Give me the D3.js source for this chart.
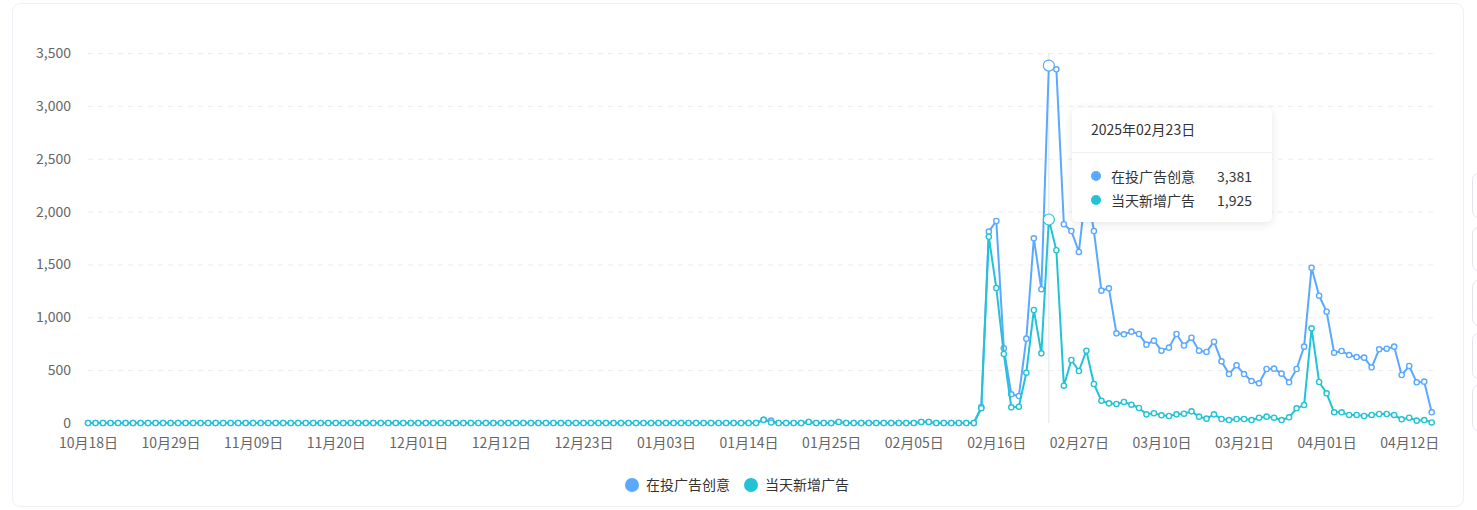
<!DOCTYPE html>
<html>
<head>
<meta charset="utf-8">
<script src="https://cdn.jsdelivr.net/npm/d3@7"></script>
<style>
  body { margin: 0; background: #fff; font-family: "Noto Sans CJK SC", "Noto Sans", sans-serif; }
  #wrap { position: relative; width: 1477px; height: 510px; overflow: hidden; }
  .tip {
    position: absolute; left: 1072px; top: 108px; width: 200px; height: 114px;
    background: #fff; border-radius: 5px; box-shadow: 0 2px 10px rgba(0,0,0,0.10);
    color: #333; font-size: 14px;
  }
  .tip .title { position: absolute; left: 19px; top: 11px; line-height: 20px; }
  .tip .sep { position: absolute; left: 0; right: 0; top: 44px; border-top: 1px solid #eef0f5; }
  .tip .row { position: absolute; left: 19px; right: 20px; height: 20px; line-height: 20px; }
  .tip .dot { position: absolute; left: 0; top: 5px; width: 10px; height: 10px; border-radius: 50%; }
  .tip .name { position: absolute; left: 20px; }
  .tip .val { position: absolute; right: 0; }
</style>
</head>
<body>
<div id="wrap"><svg width="1477" height="510"></svg></div>
<script>
const startDate = new Date(2024, 9, 18);
const dates = d3.timeDay.range(startDate, new Date(2025, 3, 16));
const tickLabels = ["10月18日", "10月29日", "11月09日", "11月20日", "12月01日", "12月12日", "12月23日",
  "01月03日", "01月14日", "01月25日", "02月05日", "02月16日", "02月27日", "03月10日", "03月21日",
  "04月01日", "04月12日"];
const yTicks = [0, 500, 1000, 1500, 2000, 2500, 3000, 3500];

const seriesNames = ["在投广告创意", "当天新增广告"];
const colors = ["#5aa8ff", "#22c3d6"];

// 在投广告创意
const activeAds = [
  0, 0, 0, 0, 0, 0, 0, 0, 0, 0, 0, 0, 0, 0, 0, 0, 0, 0, 0, 0,
  0, 0, 0, 0, 0, 0, 0, 0, 0, 0, 0, 0, 0, 0, 0, 0, 0, 0, 0, 0,
  0, 0, 0, 0, 0, 0, 0, 0, 0, 0, 0, 0, 0, 0, 0, 0, 0, 0, 0, 0,
  0, 0, 0, 0, 0, 0, 0, 0, 0, 0, 0, 0, 0, 0, 0, 0, 0, 0, 0, 0,
  0, 0, 0, 0, 0, 0, 0, 0, 0, 0, 30, 22, 0, 0, 0, 0, 10, 0, 0, 0,
  10, 0, 0, 0, 0, 0, 0, 0, 0, 0, 0, 10, 10, 0, 0, 0, 0, 0, 0, 150,
  1810, 1911, 706, 271, 255, 798, 1747, 1265, 3381, 3346, 1880, 1816, 1618, 2250, 1816, 1252, 1274, 848, 839, 864,
  842, 741, 779, 684, 713, 842, 733, 807, 684, 672, 769, 583, 463, 546, 463, 397, 375, 511, 514, 467,
  385, 511, 722, 1469, 1204, 1053, 665, 681, 643, 624, 618, 527, 697, 703, 722, 454, 539, 385, 391, 101
];
// 当天新增广告
const newAds = [
  0, 0, 0, 0, 0, 0, 0, 0, 0, 0, 0, 0, 0, 0, 0, 0, 0, 0, 0, 0,
  0, 0, 0, 0, 0, 0, 0, 0, 0, 0, 0, 0, 0, 0, 0, 0, 0, 0, 0, 0,
  0, 0, 0, 0, 0, 0, 0, 0, 0, 0, 0, 0, 0, 0, 0, 0, 0, 0, 0, 0,
  0, 0, 0, 0, 0, 0, 0, 0, 0, 0, 0, 0, 0, 0, 0, 0, 0, 0, 0, 0,
  0, 0, 0, 0, 0, 0, 0, 0, 0, 0, 30, 5, 0, 0, 0, 0, 10, 0, 0, 0,
  10, 0, 0, 0, 0, 0, 0, 0, 0, 0, 0, 10, 10, 0, 0, 0, 0, 0, 0, 140,
  1762, 1277, 653, 148, 154, 476, 1069, 659, 1925, 1634, 353, 596, 492, 684, 369, 211, 186, 180, 199, 173,
  142, 82, 92, 73, 66, 82, 88, 110, 60, 41, 82, 38, 28, 38, 38, 28, 50, 60, 50, 28,
  54, 139, 170, 896, 388, 281, 101, 101, 76, 76, 66, 76, 85, 85, 76, 35, 50, 22, 28, 5
];
const series = [activeAds, newAds];
const hoverIndex = 128;

const svg = d3.select("svg");
const fmt = d3.format(",");
const labelFmt = d3.timeFormat("%m月%d日");

// card outline and the clipped side buttons
svg.append("rect").attr("x", 12.5).attr("y", 3.5).attr("width", 1451).attr("height", 503)
  .attr("rx", 8).attr("fill", "#fff").attr("stroke", "#eef0f5");
[[173, 217], [227, 270], [280, 325], [333, 378], [385, 430]].forEach(([a, b]) => {
  svg.append("rect").attr("x", 1472.5).attr("y", a + 0.5).attr("width", 30).attr("height", b - a)
    .attr("rx", 6).attr("fill", "#fff").attr("stroke", "#e3e6ee");
});

const x = d3.scaleLinear().domain([0, dates.length - 1]).range([88, 1431.7]);
const y = d3.scaleLinear().domain([0, 3500]).range([423, 53]);

// grid
svg.append("g").selectAll("line").data(yTicks.slice(1)).join("line")
  .attr("x1", 88).attr("x2", 1434)
  .attr("y1", d => y(d) + 0.5).attr("y2", d => y(d) + 0.5)
  .attr("stroke", "#e9ecf3").attr("stroke-dasharray", "5,5");

// y axis
const yAxis = svg.append("g").attr("transform", "translate(79,0)")
  .call(d3.axisLeft(y).tickValues(yTicks).tickFormat(fmt).tickSize(0).tickPadding(8));
yAxis.select(".domain").remove();
yAxis.selectAll("text").attr("font-size", 14).attr("fill", "#666")
  .attr("font-family", "'Noto Sans CJK SC', sans-serif");

// x axis
const tickIdx = dates.map((d, i) => i).filter(i => tickLabels.includes(labelFmt(dates[i])));
const xAxis = svg.append("g").attr("transform", "translate(0,423)")
  .call(d3.axisBottom(x).tickValues(tickIdx).tickFormat(i => labelFmt(dates[i])).tickSize(0).tickPadding(15));
xAxis.select(".domain").remove();
xAxis.selectAll("text").attr("font-size", 14).attr("fill", "#666")
  .attr("font-family", "'Noto Sans CJK SC', sans-serif");

// axis pointer
svg.append("line").attr("x1", x(hoverIndex)).attr("x2", x(hoverIndex))
  .attr("y1", 53).attr("y2", 423).attr("stroke", "#e2e4ea").attr("stroke-width", 1);

const line = d3.line().x((d, i) => x(i)).y(d => y(d));

series.forEach((vals, s) => {
  const g = svg.append("g");
  g.append("path").datum(vals).attr("d", line)
    .attr("fill", "none").attr("stroke", colors[s]).attr("stroke-width", 2).attr("stroke-linejoin", "round");
  g.selectAll("circle").data(vals).join("circle")
    .attr("cx", (d, i) => x(i)).attr("cy", d => y(d))
    .attr("r", (d, i) => i === hoverIndex ? 5.5 : 2.6)
    .attr("fill", "#fff").attr("stroke", colors[s])
    .attr("stroke-width", (d, i) => i === hoverIndex ? 1.2 : 1.4);
});

// legend
const legend = svg.append("g").attr("font-size", 14)
  .attr("font-family", "'Noto Sans CJK SC', sans-serif");
[[632, 646], [751, 765]].forEach(([cx, tx], s) => {
  legend.append("circle").attr("cx", cx).attr("cy", 485).attr("r", 7).attr("fill", colors[s]);
  legend.append("text").attr("x", tx).attr("y", 490).attr("fill", "#333").text(seriesNames[s]);
});

// tooltip
const tip = d3.select("#wrap").append("div").attr("class", "tip");
tip.append("div").attr("class", "title").text(d3.timeFormat("%Y年%m月%d日")(dates[hoverIndex]));
tip.append("div").attr("class", "sep");
series.forEach((vals, s) => {
  const row = tip.append("div").attr("class", "row").style("top", (58 + s * 24) + "px");
  row.append("span").attr("class", "dot").style("background", colors[s]);
  row.append("span").attr("class", "name").text(seriesNames[s]);
  row.append("span").attr("class", "val").text(fmt(vals[hoverIndex]));
});
</script>
</body>
</html>
